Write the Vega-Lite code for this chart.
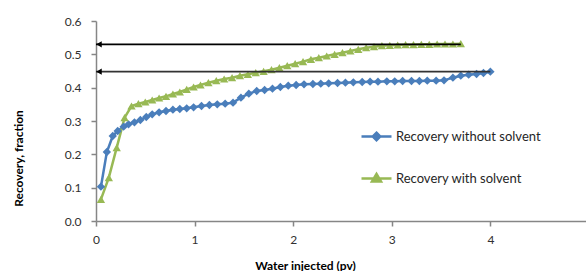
{
  "$schema": "https://vega.github.io/schema/vega-lite/v6.json",
  "width": 490,
  "height": 200,
  "autosize": {"type": "none"},
  "padding": {"left": 96, "top": 21, "right": 0, "bottom": 50},
  "background": "white",
  "config": {
    "view": {"stroke": null},
    "font": "Lato",
    "axis": {"grid": false, "domainColor": "#868686", "tickColor": "#868686", "domainWidth": 1.5, "tickWidth": 1.5, "labelColor": "#303030", "labelFont": "Lato", "labelFontSize": 12, "titleFont": "Lato", "titleFontWeight": "bold", "titleFontSize": 12, "titleColor": "#000000", "labelOverlap": false, "labelFlush": false}
  },
  "datasets": {
    "series": [
      {"x": 0.05, "y": 0.103, "s": "Recovery without solvent"},
      {"x": 0.11, "y": 0.207, "s": "Recovery without solvent"},
      {"x": 0.17, "y": 0.255, "s": "Recovery without solvent"},
      {"x": 0.22, "y": 0.27, "s": "Recovery without solvent"},
      {"x": 0.28, "y": 0.283, "s": "Recovery without solvent"},
      {"x": 0.33, "y": 0.29, "s": "Recovery without solvent"},
      {"x": 0.39, "y": 0.296, "s": "Recovery without solvent"},
      {"x": 0.45, "y": 0.303, "s": "Recovery without solvent"},
      {"x": 0.51, "y": 0.312, "s": "Recovery without solvent"},
      {"x": 0.57, "y": 0.32, "s": "Recovery without solvent"},
      {"x": 0.64, "y": 0.326, "s": "Recovery without solvent"},
      {"x": 0.71, "y": 0.33, "s": "Recovery without solvent"},
      {"x": 0.78, "y": 0.334, "s": "Recovery without solvent"},
      {"x": 0.85, "y": 0.336, "s": "Recovery without solvent"},
      {"x": 0.92, "y": 0.338, "s": "Recovery without solvent"},
      {"x": 0.99, "y": 0.341, "s": "Recovery without solvent"},
      {"x": 1.07, "y": 0.345, "s": "Recovery without solvent"},
      {"x": 1.15, "y": 0.348, "s": "Recovery without solvent"},
      {"x": 1.23, "y": 0.35, "s": "Recovery without solvent"},
      {"x": 1.31, "y": 0.352, "s": "Recovery without solvent"},
      {"x": 1.39, "y": 0.355, "s": "Recovery without solvent"},
      {"x": 1.47, "y": 0.37, "s": "Recovery without solvent"},
      {"x": 1.55, "y": 0.382, "s": "Recovery without solvent"},
      {"x": 1.63, "y": 0.39, "s": "Recovery without solvent"},
      {"x": 1.71, "y": 0.393, "s": "Recovery without solvent"},
      {"x": 1.79, "y": 0.397, "s": "Recovery without solvent"},
      {"x": 1.87, "y": 0.402, "s": "Recovery without solvent"},
      {"x": 1.95, "y": 0.406, "s": "Recovery without solvent"},
      {"x": 2.03, "y": 0.408, "s": "Recovery without solvent"},
      {"x": 2.11, "y": 0.41, "s": "Recovery without solvent"},
      {"x": 2.2, "y": 0.411, "s": "Recovery without solvent"},
      {"x": 2.28, "y": 0.412, "s": "Recovery without solvent"},
      {"x": 2.36, "y": 0.413, "s": "Recovery without solvent"},
      {"x": 2.45, "y": 0.414, "s": "Recovery without solvent"},
      {"x": 2.53, "y": 0.415, "s": "Recovery without solvent"},
      {"x": 2.61, "y": 0.416, "s": "Recovery without solvent"},
      {"x": 2.7, "y": 0.417, "s": "Recovery without solvent"},
      {"x": 2.78, "y": 0.418, "s": "Recovery without solvent"},
      {"x": 2.86, "y": 0.418, "s": "Recovery without solvent"},
      {"x": 2.95, "y": 0.419, "s": "Recovery without solvent"},
      {"x": 3.03, "y": 0.419, "s": "Recovery without solvent"},
      {"x": 3.11, "y": 0.42, "s": "Recovery without solvent"},
      {"x": 3.2, "y": 0.42, "s": "Recovery without solvent"},
      {"x": 3.28, "y": 0.42, "s": "Recovery without solvent"},
      {"x": 3.36, "y": 0.421, "s": "Recovery without solvent"},
      {"x": 3.45, "y": 0.421, "s": "Recovery without solvent"},
      {"x": 3.53, "y": 0.422, "s": "Recovery without solvent"},
      {"x": 3.62, "y": 0.43, "s": "Recovery without solvent"},
      {"x": 3.7, "y": 0.436, "s": "Recovery without solvent"},
      {"x": 3.78, "y": 0.439, "s": "Recovery without solvent"},
      {"x": 3.86, "y": 0.441, "s": "Recovery without solvent"},
      {"x": 3.93, "y": 0.444, "s": "Recovery without solvent"},
      {"x": 4.0, "y": 0.448, "s": "Recovery without solvent"},
      {"x": 0.05, "y": 0.065, "s": "Recovery with solvent"},
      {"x": 0.13, "y": 0.13, "s": "Recovery with solvent"},
      {"x": 0.21, "y": 0.22, "s": "Recovery with solvent"},
      {"x": 0.29, "y": 0.31, "s": "Recovery with solvent"},
      {"x": 0.36, "y": 0.345, "s": "Recovery with solvent"},
      {"x": 0.43, "y": 0.352, "s": "Recovery with solvent"},
      {"x": 0.5, "y": 0.357, "s": "Recovery with solvent"},
      {"x": 0.57, "y": 0.363, "s": "Recovery with solvent"},
      {"x": 0.64, "y": 0.369, "s": "Recovery with solvent"},
      {"x": 0.71, "y": 0.374, "s": "Recovery with solvent"},
      {"x": 0.78, "y": 0.381, "s": "Recovery with solvent"},
      {"x": 0.85, "y": 0.387, "s": "Recovery with solvent"},
      {"x": 0.92, "y": 0.395, "s": "Recovery with solvent"},
      {"x": 0.99, "y": 0.402, "s": "Recovery with solvent"},
      {"x": 1.06, "y": 0.408, "s": "Recovery with solvent"},
      {"x": 1.14, "y": 0.415, "s": "Recovery with solvent"},
      {"x": 1.22, "y": 0.421, "s": "Recovery with solvent"},
      {"x": 1.3, "y": 0.426, "s": "Recovery with solvent"},
      {"x": 1.38, "y": 0.43, "s": "Recovery with solvent"},
      {"x": 1.46, "y": 0.436, "s": "Recovery with solvent"},
      {"x": 1.54, "y": 0.44, "s": "Recovery with solvent"},
      {"x": 1.62, "y": 0.445, "s": "Recovery with solvent"},
      {"x": 1.7, "y": 0.449, "s": "Recovery with solvent"},
      {"x": 1.78, "y": 0.454, "s": "Recovery with solvent"},
      {"x": 1.86, "y": 0.46, "s": "Recovery with solvent"},
      {"x": 1.94, "y": 0.466, "s": "Recovery with solvent"},
      {"x": 2.02, "y": 0.472, "s": "Recovery with solvent"},
      {"x": 2.1, "y": 0.478, "s": "Recovery with solvent"},
      {"x": 2.18, "y": 0.485, "s": "Recovery with solvent"},
      {"x": 2.26, "y": 0.49, "s": "Recovery with solvent"},
      {"x": 2.34, "y": 0.495, "s": "Recovery with solvent"},
      {"x": 2.42, "y": 0.5, "s": "Recovery with solvent"},
      {"x": 2.5, "y": 0.505, "s": "Recovery with solvent"},
      {"x": 2.58, "y": 0.51, "s": "Recovery with solvent"},
      {"x": 2.66, "y": 0.515, "s": "Recovery with solvent"},
      {"x": 2.74, "y": 0.52, "s": "Recovery with solvent"},
      {"x": 2.82, "y": 0.523, "s": "Recovery with solvent"},
      {"x": 2.9, "y": 0.526, "s": "Recovery with solvent"},
      {"x": 2.98, "y": 0.527, "s": "Recovery with solvent"},
      {"x": 3.06, "y": 0.528, "s": "Recovery with solvent"},
      {"x": 3.14, "y": 0.529, "s": "Recovery with solvent"},
      {"x": 3.22, "y": 0.529, "s": "Recovery with solvent"},
      {"x": 3.3, "y": 0.53, "s": "Recovery with solvent"},
      {"x": 3.38, "y": 0.53, "s": "Recovery with solvent"},
      {"x": 3.46, "y": 0.531, "s": "Recovery with solvent"},
      {"x": 3.54, "y": 0.531, "s": "Recovery with solvent"},
      {"x": 3.62, "y": 0.531, "s": "Recovery with solvent"},
      {"x": 3.7, "y": 0.532, "s": "Recovery with solvent"}
    ],
    "arrows": [
      {"x": 0, "xend": 3.7, "y": 0.53, "c": "#000000"},
      {"x": 0, "xend": 4.0, "y": 0.448, "c": "#333333"}
    ]
  },
  "encoding": {
    "x": {"field": "x", "type": "quantitative", "scale": {"domain": [0, 4.97], "nice": false}, "axis": {"values": [0, 1, 2, 3, 4], "format": "d", "tickSize": 5, "labelPadding": 8, "title": "Water injected (pv)", "titleX": 209, "titleY": 44, "titleBaseline": "middle", "titleAnchor": null, "titleAlign": "center"}},
    "y": {"field": "y", "type": "quantitative", "scale": {"domain": [0, 0.6], "nice": false}, "axis": {"values": [0, 0.1, 0.2, 0.3, 0.4, 0.5, 0.6], "format": ".1f", "tickSize": 5, "labelPadding": 10, "title": "Recovery, fraction", "titleX": -78, "titleY": 137, "titleAngle": -90, "titleAlign": "center", "titleBaseline": "middle", "titleAnchor": null}}
  },
  "layer": [
    {
      "data": {"name": "series"},
      "mark": {"type": "line", "strokeWidth": 2.5},
      "encoding": {
        "color": {"field": "s", "type": "nominal", "scale": {"domain": ["Recovery without solvent", "Recovery with solvent"], "range": ["#4A7EBB", "#98B954"]},
          "legend": {"title": null, "orient": "none", "legendX": 264, "legendY": 99, "labelFontSize": 13, "labelColor": "#262626", "labelFont": "Lato", "rowPadding": 16, "symbolSize": 900, "symbolStrokeWidth": 2.5, "labelOffset": 3,
            "encode": {"symbols": {"update": {
              "shape": {"signal": "datum.value === 'Recovery with solvent' ? 'M-1,0L1,0M0,-0.3L0.3,0.2L-0.3,0.2Z' : 'M-1,0L1,0M0,-0.25L0.25,0L0,0.25L-0.25,0Z'"},
              "stroke": {"scale": "color", "field": "value"},
              "fill": {"scale": "color", "field": "value"},
              "strokeWidth": {"value": 2.5}
            }}}}}
      }
    },
    {
      "data": {"name": "series"},
      "transform": [{"filter": "datum.s === 'Recovery without solvent'"}],
      "mark": {"type": "point", "shape": "diamond", "filled": true, "opacity": 1, "size": 70, "color": "#4A7EBB"}
    },
    {
      "data": {"name": "series"},
      "transform": [{"filter": "datum.s === 'Recovery with solvent'"}],
      "mark": {"type": "point", "shape": "triangle-up", "filled": true, "opacity": 1, "size": 70, "color": "#98B954"}
    },
    {
      "data": {"name": "arrows"},
      "mark": {"type": "rule", "strokeWidth": 1.8},
      "encoding": {
        "x2": {"field": "xend"},
        "color": {"field": "c", "type": "nominal", "scale": null}
      }
    },
    {
      "data": {"name": "arrows"},
      "mark": {"type": "point", "shape": "triangle-left", "filled": true, "size": 40, "opacity": 1, "color": "#000000", "xOffset": 3},
      "encoding": {}
    }
  ]
}
